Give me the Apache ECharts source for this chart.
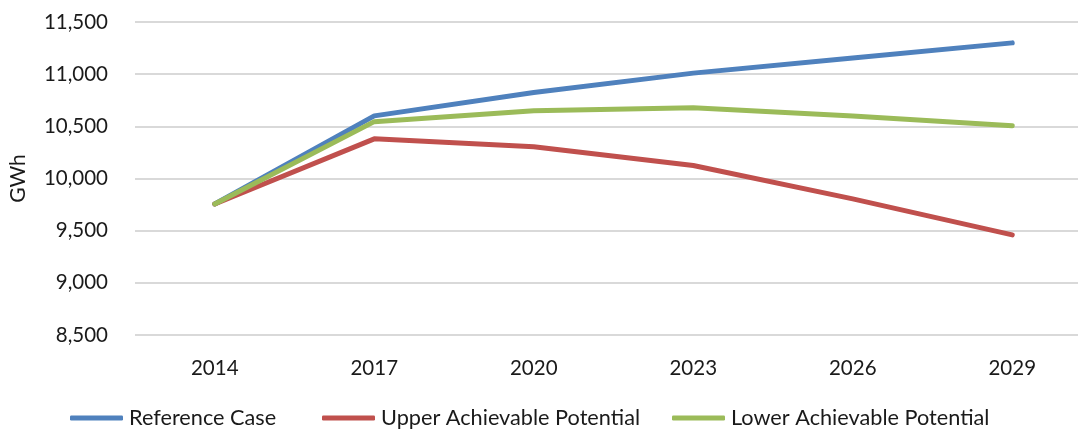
<!DOCTYPE html>
<html>
<head>
<meta charset="utf-8">
<script src="https://cdn.jsdelivr.net/npm/echarts@6/dist/echarts.min.js"></script>
<style>
  html, body { margin: 0; padding: 0; background: #fff; }
  #chart { width: 1078px; height: 429px; }
</style>
</head>
<body>
<div id="chart"></div>
<script>
// 年份
const years = ["2014", "2017", "2020", "2023", "2026", "2029"];
// GWh
const referenceCase = [9756, 10600, 10825, 11010, 11155, 11300];
const upperPotential = [9756, 10380, 10305, 10125, 9805, 9460];
const lowerPotential = [9756, 10545, 10650, 10678, 10600, 10505];

const font = "Lato, 'Liberation Sans', sans-serif";

function makeSeries(name, data, color) {
  return {
    name: name,
    type: "line",
    data: data,
    symbol: "none",
    lineStyle: { width: 5, color: color, cap: "round", join: "round" },
    itemStyle: { color: color },
  };
}

function legendAt(name, left) {
  return {
    data: [name],
    left: left,
    top: 407,
    padding: 0,
    itemWidth: 53,
    itemHeight: 5,
    icon: "roundRect",
    textStyle: { fontFamily: font, fontSize: 21.7, color: "#1a1a1a", padding: [0, 0, 0, 1] },
  };
}

let myChart = echarts.init(document.getElementById("chart"));
myChart.setOption({
  animation: false,
  // 绘图区比画布宽，右边被裁掉
  grid: { left: 135, width: 957, top: 22, bottom: 94, outerBoundsMode: "none", containLabel: false },
  legend: [
    legendAt("Reference Case", 70),
    legendAt("Upper Achievable Potential", 322),
    legendAt("Lower Achievable Potential", 672),
  ],
  xAxis: {
    type: "category",
    data: years,
    boundaryGap: true,
    axisLine: { show: false },
    axisTick: { show: false },
    axisLabel: { margin: 23, fontFamily: font, fontSize: 20.5, color: "#1a1a1a" },
  },
  yAxis: {
    type: "value",
    min: 8500,
    max: 11500,
    interval: 500,
    name: "GWh",
    nameLocation: "middle",
    nameGap: 106,
    nameRotate: 90,
    nameTextStyle: { fontFamily: font, fontSize: 21, color: "#1a1a1a" },
    axisLine: { show: false },
    axisTick: { show: false },
    splitLine: { lineStyle: { color: "#d9d9d9", width: 2 } },
    axisLabel: {
      margin: 27,
      fontFamily: font,
      fontSize: 20.5,
      color: "#1a1a1a",
      formatter: (v) => v.toLocaleString("en-US"),
    },
  },
  series: [
    makeSeries("Reference Case", referenceCase, "#4f81bd"),
    makeSeries("Upper Achievable Potential", upperPotential, "#c0504d"),
    makeSeries("Lower Achievable Potential", lowerPotential, "#9bbb59"),
  ],
});
</script>
</body>
</html>
